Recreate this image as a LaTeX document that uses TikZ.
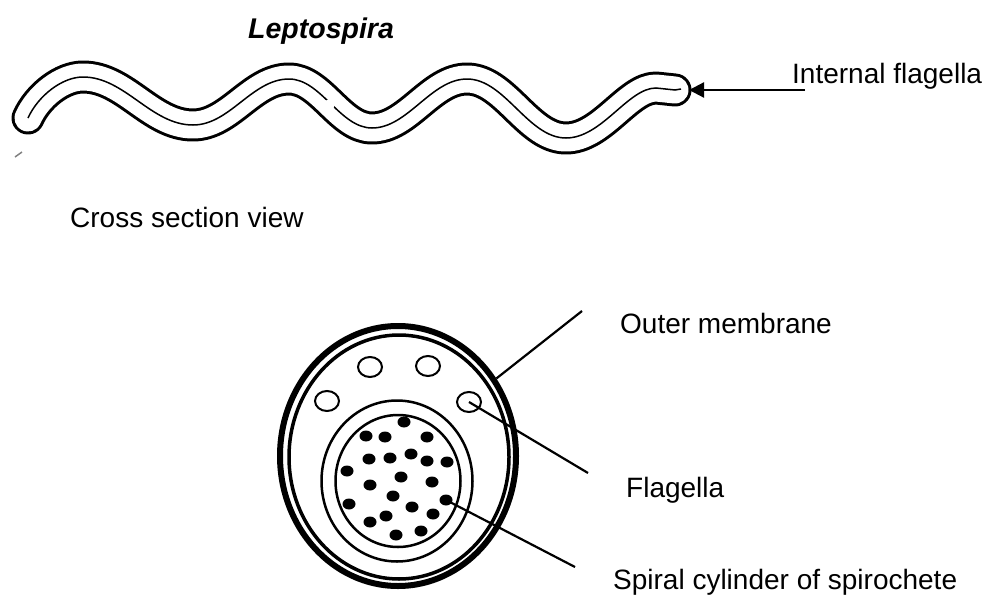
\documentclass[tikz,border=0pt]{standalone}
\usepackage{fontspec}
\setmainfont{Liberation Sans}
\usetikzlibrary{shapes.geometric,arrows.meta}

% centre line of the spirochete body
\newcommand\wormpath{(28,118) .. controls (38,96) and (62,77) .. (83,77)
  .. controls (125,77) and (151,125) .. (193,125)
  .. controls (230,125) and (252,79) .. (289,79)
  .. controls (321,79) and (340,128) .. (372,128)
  .. controls (408,128) and (431,79) .. (467,79)
  .. controls (505,79) and (528,138) .. (566,138)
  .. controls (602,138) and (628,88) .. (656,88) -- (675,90)}

\begin{document}
\begin{tikzpicture}[x=1pt,y=-1pt,
  lbl/.style={anchor=base west, inner sep=0pt, font=\fontsize{28}{30}\selectfont},
  leader/.style={line width=2.2pt},
  ring/.style={ellipse, draw, inner sep=0pt},
  flag/.style={ellipse, draw, line width=2pt, minimum width=24pt, minimum height=20pt, inner sep=0pt},
  dot/.style={ellipse, fill, minimum width=13pt, minimum height=11pt, inner sep=0pt},
  tubeedge/.style={line width=33pt, line cap=round, line join=round},
  tubefill/.style={white, line width=27pt, line cap=round, line join=round},
]
\useasboundingbox (0,0) rectangle (988,597);

% ---- whole organism ----
\draw[tubeedge] \wormpath;
\draw[tubefill] \wormpath;
\draw[line width=1.5pt] \wormpath -- (681,89);
\fill[white] (328,106) circle (6);
\draw[line width=1.5pt, gray] (15,157) -- (22,152);

\node[anchor=base west, inner sep=0pt, font=\fontsize{28.5}{30}\selectfont\bfseries\itshape] (title) at (248,38) {Leptospira};

\coordinate (tip) at (689,90);
\coordinate (arrtail) at (805,90);
\draw[leader, -{Triangle[length=15pt,width=15pt]}] (arrtail) -- (tip);
\node[lbl] (iflab) at (792,83) {Internal flagella};

\node[lbl] (cslab) at (70,227) {Cross section view};

% ---- cross section ----
\node[ring, line width=6pt, minimum width=236pt, minimum height=260pt] (outer) at (398,456) {};
\node[ring, line width=3.5pt, minimum width=220pt, minimum height=244pt] (inner) at (399,457) {};
\node[ring, line width=2.5pt, minimum width=151pt, minimum height=161pt] (cyl) at (397,481) {};
\node[ring, line width=2.5pt, minimum width=125pt, minimum height=132pt] (core) at (398,481) {};

\node[flag] (f1) at (370,367) {};
\node[flag] (f2) at (428,366) {};
\node[flag] (f3) at (327,401) {};
\node[flag] (f4) at (469,402) {};

\foreach \p [count=\i] in {(404,422),(366,436),(385,437),(427,437),(369,459),(390,458),
  (411,454),(427,461),(447,462),(347,471),(401,477),(432,482),(370,485),(393,496),
  (446,500),(349,504),(412,507),(433,514),(386,516),(370,522),(421,531),(396,535)}
  \node[dot] (d\i) at \p {};

% ---- labels ----
\node[lbl] (omlab) at (620,333) {Outer membrane};
\coordinate (omend) at (582,311);
\draw[leader] (omend) -- (outer);

\node[lbl] (fllab) at (626,497) {Flagella};
\coordinate (flend) at (588,473);
\draw[leader] (f4.center) -- (flend);

\node[lbl] (splab) at (613,589) {Spiral cylinder of spirochete};
\coordinate (spend) at (575,567);
\draw[leader] (d15.center) -- (spend);
\end{tikzpicture}
\end{document}
